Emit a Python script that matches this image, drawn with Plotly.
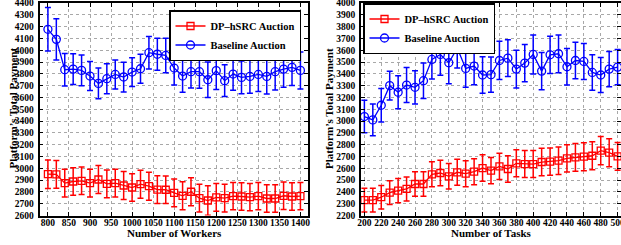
import plotly.graph_objects as go

# ---------------- data ----------------
workers = list(range(800, 1401, 20))
dp_workers = [2950, 2948, 2874, 2888, 2894, 2874, 2905, 2868, 2874, 2854, 2837, 2865, 2848, 2819, 2818,
              2792, 2767, 2801, 2747, 2727, 2753, 2747, 2764, 2761, 2756, 2764, 2744, 2744, 2767, 2761, 2764]
dp_workers_err = [121, 118, 118, 116, 116, 118, 118, 118, 118, 118, 116, 118, 118, 118, 116,
                  118, 118, 118, 118, 125, 118, 118, 116, 116, 116, 116, 116, 116, 116, 116, 116]
base_workers = [4177, 4092, 3835, 3840, 3829, 3781, 3719, 3759, 3795, 3773, 3815, 3843, 3979, 3966, 3956,
                3849, 3781, 3818, 3818, 3750, 3827, 3742, 3798, 3770, 3778, 3795, 3778, 3818, 3840, 3855, 3829]
base_workers_err = [184, 174, 137, 130, 130, 123, 130, 127, 123, 126, 122, 123, 137, 136, 146,
                    144, 137, 137, 141, 150, 160, 134, 138, 138, 143, 144, 148, 155, 154, 154, 157]

tasks = list(range(200, 501, 10))
dp_tasks = [2330, 2330, 2355, 2394, 2411, 2425, 2467, 2467, 2549, 2560, 2532, 2566, 2554, 2571, 2602,
            2580, 2616, 2594, 2642, 2636, 2636, 2653, 2656, 2664, 2684, 2692, 2698, 2706, 2749, 2732, 2701]
dp_tasks_err = [101, 100, 100, 100, 102, 102, 104, 104, 106, 108, 108, 110, 110, 110, 112,
                112, 112, 112, 114, 114, 114, 116, 116, 116, 116, 118, 118, 118, 120, 118, 118]
base_tasks = [3038, 3010, 3134, 3300, 3244, 3305, 3286, 3342, 3522, 3564, 3494, 3618, 3446, 3466, 3390,
              3393, 3513, 3533, 3440, 3491, 3564, 3423, 3561, 3570, 3460, 3513, 3505, 3412, 3390, 3440, 3457]
base_tasks_err = [138, 135, 141, 122, 139, 148, 141, 150, 166, 176, 179, 169, 160, 158, 155,
                  150, 162, 155, 160, 158, 165, 158, 158, 160, 155, 155, 152, 150, 148, 150, 150]

y_left_ticks = list(range(2600, 4401, 100))
y_right_ticks = list(range(2200, 4001, 100))
x_left_ticks = list(range(800, 1401, 50))
x_right_ticks = list(range(200, 501, 20))

series_names = ["DP\u2013hSRC Auction", "Baseline Auction"]

# ---------------- styling ----------------
W, H = 621, 245
RED = "#ff0000"
BLUE = "#0000ff"
FONT = "Liberation Serif"

def px_x(p):
    return p / W

def px_y(p):
    return 1 - p / H

fig = go.Figure()

def add_series(x, y, err, color, symbol, name, xa, ya, leg, msize):
    fig.add_trace(go.Scatter(
        x=x, y=y, mode="lines+markers", name=name,
        xaxis=xa, yaxis=ya, legend=leg,
        line=dict(color=color, width=1.3),
        marker=dict(symbol=symbol, size=msize, color=color,
                    line=dict(color=color, width=1.3)),
        error_y=dict(type="data", array=err, visible=True, color=color,
                     thickness=1.5, width=3),
    ))

add_series(workers, dp_workers, dp_workers_err, RED, "square-open", series_names[0], "x", "y", "legend", 7)
add_series(workers, base_workers, base_workers_err, BLUE, "circle-open", series_names[1], "x", "y", "legend", 8)
add_series(tasks, dp_tasks, dp_tasks_err, RED, "square-open", series_names[0], "x2", "y2", "legend2", 7)
add_series(tasks, base_tasks, base_tasks_err, BLUE, "circle-open", series_names[1], "x2", "y2", "legend2", 8)

tickfont = dict(family=FONT, size=9.5, color="black", weight="bold")
grid = dict(showgrid=True, gridcolor="#a8a8a8", gridwidth=1, griddash="dot")
frame = dict(showline=True, linecolor="black", linewidth=1.6, mirror="ticks",
             ticks="inside", ticklen=4, tickcolor="black", tickwidth=1, zeroline=False,
             tickfont=tickfont, automargin=False, ticklabeloverflow="allow")
xframe = dict(frame, ticklabelstandoff=-3)
yframe = dict(frame, ticklabelstandoff=2)

y_top, y_bot = 3, 215.5
legend_common = dict(xanchor="left", yanchor="top",
                     bgcolor="white", bordercolor="black", borderwidth=1.5,
                     font=dict(family=FONT, size=10.5, color="black", weight="bold"),
                     tracegroupgap=0, itemwidth=30)
fig.update_layout(
    width=W, height=H,
    margin=dict(l=0, r=0, t=0, b=0, autoexpand=False),
    paper_bgcolor="white", plot_bgcolor="white",
    xaxis=dict(domain=[px_x(39.5), px_x(308)], range=[780, 1418], anchor="y",
               tickvals=x_left_ticks, tickangle=0, **grid, **xframe),
    yaxis=dict(domain=[px_y(y_bot), px_y(y_top)], range=[2600, 4400], anchor="x",
               tickvals=y_left_ticks, **grid, **yframe),
    xaxis2=dict(domain=[px_x(361), 1.0], range=[196, 504], anchor="y2",
                tickvals=x_right_ticks, tickangle=0, **grid, **xframe),
    yaxis2=dict(domain=[px_y(y_bot), px_y(y_top)], range=[2200, 4000], anchor="x2",
                tickvals=y_right_ticks, **grid, **yframe),
    legend=dict(x=px_x(169), y=px_y(10), **legend_common),
    legend2=dict(x=px_x(363), y=px_y(3), **legend_common),
    showlegend=True,
)

title_font = dict(family=FONT, size=11, color="black", weight="bold")
ann = [
    dict(text="Number of Workers", x=px_x(174.5), y=px_y(232.5)),
    dict(text="Number of Tasks", x=px_x(491), y=px_y(232.5)),
    dict(text="Platform\u2019s Total Payment", x=px_x(12), y=px_y(108.5), textangle=-90),
    dict(text="Platform\u2019s Total Payment", x=px_x(328.5), y=px_y(108.5), textangle=-90),
]
for a in ann:
    fig.add_annotation(xref="paper", yref="paper", showarrow=False,
                       xanchor="center", yanchor="middle", font=title_font, **a)

fig.write_html("out.html", config={"displayModeBar": False},
               post_script="document.body.style.margin='0px';")
